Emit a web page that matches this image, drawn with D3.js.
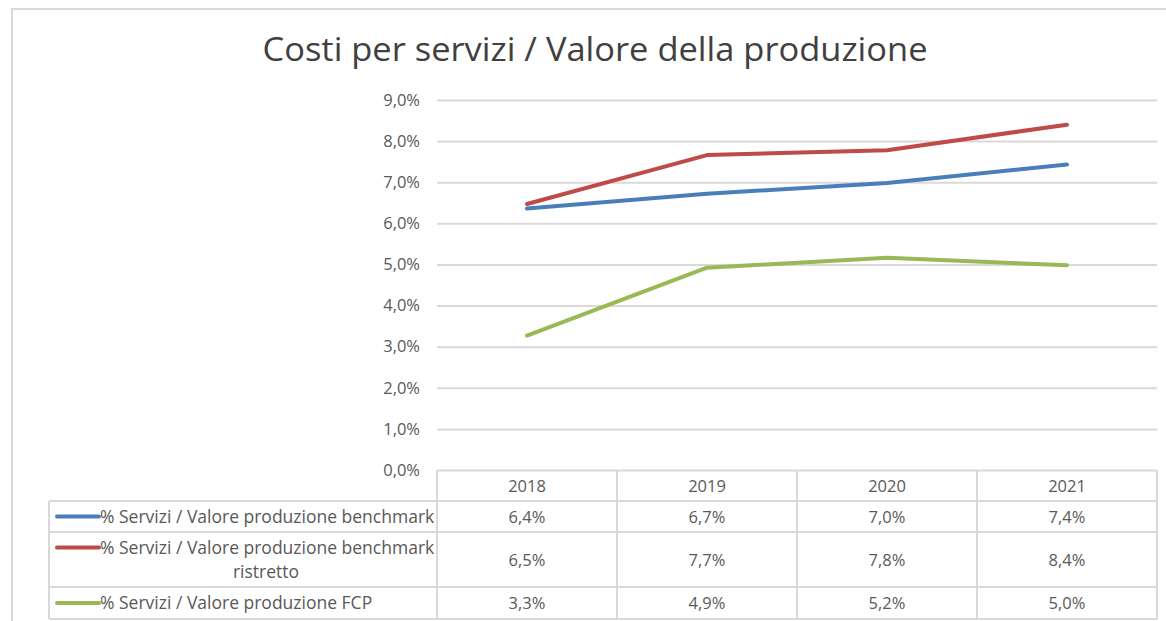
<!DOCTYPE html>
<html>
<head>
<meta charset="utf-8">
<script src="https://cdn.jsdelivr.net/npm/d3@7"></script>
<style>
  body { margin: 0; background: #fff; }
  svg { display: block; }
  text { font-family: "Open Sans", "Noto Sans", sans-serif; fill: #595959; }
</style>
</head>
<body>
<svg></svg>
<script>
const years = ['2018', '2019', '2020', '2021'];
const benchmark = [6.36, 6.72, 6.98, 7.43];
const benchmarkRistretto = [6.47, 7.66, 7.78, 8.40];
const fcp = [3.27, 4.92, 5.16, 4.98];
const yTicks = [0, 1, 2, 3, 4, 5, 6, 7, 8, 9];

const seriesNames = [
  ['% Servizi / Valore produzione benchmark'],
  ['% Servizi / Valore produzione benchmark', 'ristretto'],
  ['% Servizi / Valore produzione FCP']
];
const seriesColors = ['#4a7ebb', '#be4b48', '#98b954'];

document.addEventListener('DOMContentLoaded', function() {
  const width = 1166;
  const height = 621;

  const svg = d3.select('svg')
    .attr('width', width)
    .attr('height', height);

  const series = [benchmark, benchmarkRistretto, fcp].map((vals, i) => ({
    name: seriesNames[i],
    color: seriesColors[i],
    values: vals
  }));

  // chart frame (runs off the right and bottom of the screenshot)
  svg.append('path')
    .attr('d', 'M12,' + (height + 5) + 'V9H' + (width + 5))
    .attr('fill', 'none')
    .attr('stroke', '#d9d9d9')
    .attr('stroke-width', 2);

  svg.append('text')
    .attr('x', 595)
    .attr('y', 61)
    .attr('text-anchor', 'middle')
    .attr('textLength', 665)
    .attr('lengthAdjust', 'spacingAndGlyphs')
    .style('font-size', '33px')
    .style('fill', '#404040')
    .text('Costi per servizi / Valore della produzione');

  const x = d3.scaleBand().domain(years).range([437, 1157]);
  const y = d3.scaleLinear().domain([0, 9]).range([470, 100]);

  const fmt = v => v.toFixed(1).replace('.', ',') + '%';

  // gridlines
  svg.append('g')
    .attr('transform', 'translate(437,0)')
    .call(d3.axisLeft(y).tickValues(yTicks).tickSize(-720).tickFormat(''))
    .call(g => g.select('.domain').remove())
    .call(g => g.selectAll('line').attr('stroke', '#d9d9d9').attr('stroke-width', 2));

  // y labels
  svg.append('g')
    .attr('transform', 'translate(420,0)')
    .call(d3.axisLeft(y).tickValues(yTicks).tickSize(0).tickPadding(0).tickFormat(fmt))
    .call(g => g.select('.domain').remove())
    .call(g => g.selectAll('text')
      .attr('fill', null)
      .style('font-size', '16.5px')
      .attr('font-family', null));

  const line = d3.line()
    .x((d, i) => x(years[i]) + x.bandwidth() / 2)
    .y(d => y(d));

  svg.append('g')
    .selectAll('path')
    .data(series)
    .enter().append('path')
    .attr('d', d => line(d.values))
    .attr('fill', 'none')
    .attr('stroke', d => d.color)
    .attr('stroke-width', 4)
    .attr('stroke-linecap', 'round')
    .attr('stroke-linejoin', 'round');

  // data table
  const rowEdges = [470, 501, 532, 587, 619];
  const table = svg.append('g')
    .attr('stroke', '#d9d9d9')
    .attr('stroke-width', 2);

  rowEdges.slice(1).forEach(yy => {
    table.append('line').attr('x1', 49).attr('x2', 1157).attr('y1', yy).attr('y2', yy);
  });
  table.append('line').attr('x1', 49).attr('x2', 49).attr('y1', 501).attr('y2', 619);
  years.forEach(yr => {
    table.append('line').attr('x1', x(yr)).attr('x2', x(yr)).attr('y1', 470).attr('y2', 619);
  });
  table.append('line').attr('x1', 1157).attr('x2', 1157).attr('y1', 470).attr('y2', 619);

  // header
  svg.append('g')
    .selectAll('text')
    .data(years)
    .enter().append('text')
    .attr('x', d => x(d) + x.bandwidth() / 2)
    .attr('y', 492)
    .attr('text-anchor', 'middle')
    .style('font-size', '16.5px')
    .text(d => d);

  const rows = svg.append('g')
    .selectAll('g')
    .data(series)
    .enter().append('g')
    .attr('transform', (d, i) => 'translate(0,' + ((rowEdges[i + 1] + rowEdges[i + 2]) / 2) + ')');

  rows.append('line')
    .attr('x1', 57).attr('x2', 99)
    .attr('y1', d => d.name.length > 1 ? -12 : 0)
    .attr('y2', d => d.name.length > 1 ? -12 : 0)
    .attr('stroke', d => d.color)
    .attr('stroke-width', 4)
    .attr('stroke-linecap', 'round');

  rows.each(function(d) {
    const g = d3.select(this);
    d.name.forEach((txt, k) => {
      const two = d.name.length > 1;
      g.append('text')
        .attr('x', k === 0 ? 100 : 266)
        .attr('y', (two ? (k === 0 ? -12 : 12) : 0) + 6)
        .attr('text-anchor', k === 0 ? 'start' : 'middle')
        .style('font-size', '17.5px')
        .text(txt);
    });
    g.selectAll('.val')
      .data(d.values)
      .enter().append('text')
      .attr('class', 'val')
      .attr('x', (v, i) => x(years[i]) + x.bandwidth() / 2)
      .attr('y', 6)
      .attr('text-anchor', 'middle')
      .style('font-size', '16.5px')
      .text(v => fmt(v));
  });
});
</script>
</body>
</html>
